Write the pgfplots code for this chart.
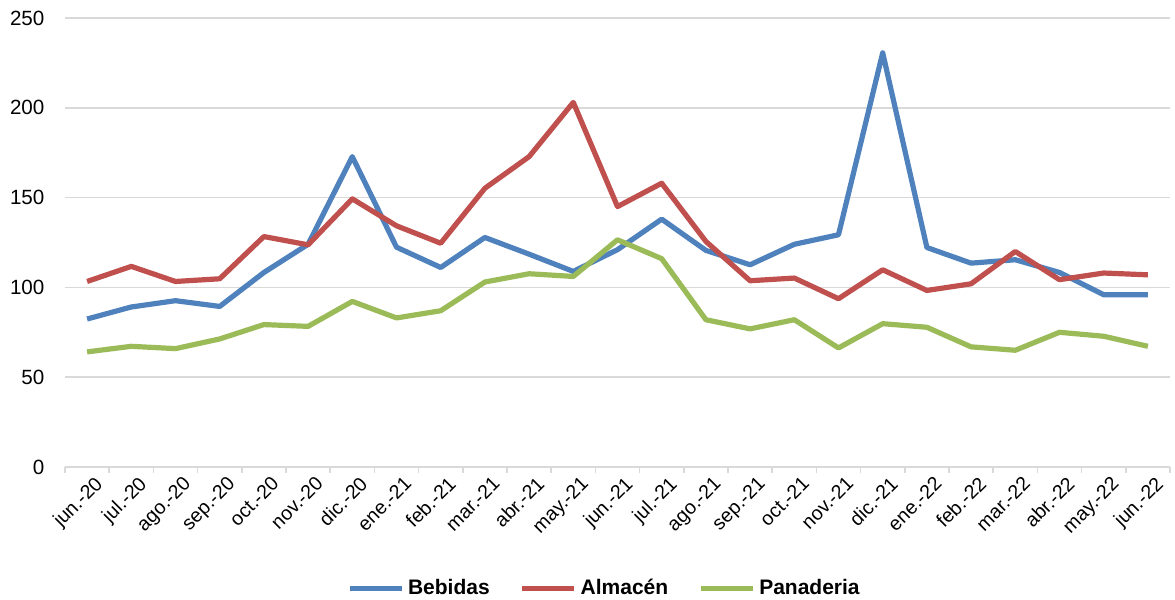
\documentclass[border=0pt]{standalone}
\usepackage{fontspec}
\setmainfont{Liberation Sans}
\usepackage{pgfplots}
\pgfplotsset{compat=1.18}
\definecolor{cBeb}{HTML}{4F81BD}
\definecolor{cAlm}{HTML}{C0504D}
\definecolor{cPan}{HTML}{9BBB59}
\definecolor{cGrid}{HTML}{D9D9D9}
\begin{document}
\begin{tikzpicture}
\useasboundingbox (0,0) rectangle (587.5pt,300pt);
\begin{axis}[
  at={(32.5pt,66.5pt)}, anchor=south west,
  scale only axis, width=552.5pt, height=224.5pt,
  xmin=-0.5, xmax=24.5, ymin=0, ymax=250,
  ytick={0,50,100,150,200,250},
  ymajorgrids, grid style={cGrid, line width=0.8pt},
  axis line style={draw=none},
  xtick pos=bottom, ytick pos=left,
  xtick={0,...,24},
  xticklabels={jun.-20,jul.-20,ago.-20,sep.-20,oct.-20,nov.-20,dic.-20,ene.-21,feb.-21,mar.-21,abr.-21,may.-21,jun.-21,jul.-21,ago.-21,sep.-21,oct.-21,nov.-21,dic.-21,ene.-22,feb.-22,mar.-22,abr.-22,may.-22,jun.-22},
  minor xtick={-0.5,0.5,...,24.5},
  major x tick style={draw=none},
  minor x tick style={cGrid, line width=0.8pt},
  minor tick length=3pt,
  tick align=outside,
  ytick style={draw=none},
  /pgf/number format/assume math mode=true,
  yticklabel style={font=\fontsize{10.3}{12}\selectfont, xshift=-2.5pt},
  xticklabel style={font=\fontsize{9.8}{12}\selectfont, rotate=45, anchor=north east, inner sep=1pt, xshift=3.5pt, yshift=-1pt},
  legend columns=3,
  legend style={draw=none, at={(0.489,-0.27)}, anchor=center, font=\fontsize{10.5}{12}\selectfont\bfseries, column sep=0pt, /tikz/every even column/.append style={column sep=13pt}, nodes={inner sep=2pt}},
  legend image code/.code={\draw[#1, line width=2.5pt] (0pt,0pt) -- (26pt,0pt);},
  every axis plot/.append style={line width=2.6pt, line join=round},
]
\addplot[cBeb] coordinates {(0,82.4)(1,89.1)(2,92.6)(3,89.4)(4,108.3)(5,124)(6,172.8)(7,122.4)(8,111.1)(9,127.8)(10,118.5)(11,108.9)(12,121)(13,138)(14,120.6)(15,112.6)(16,124)(17,129.3)(18,230.6)(19,122.2)(20,113.5)(21,115.4)(22,108.3)(23,95.9)(24,95.9)};
\addlegendentry{Bebidas}
\addplot[cAlm] coordinates {(0,103.3)(1,111.7)(2,103.3)(3,104.8)(4,128.3)(5,123.7)(6,149.3)(7,134.3)(8,124.6)(9,155.2)(10,172.8)(11,203)(12,145)(13,158)(14,125.6)(15,103.7)(16,105.2)(17,93.7)(18,109.8)(19,98.3)(20,102)(21,120)(22,104.3)(23,108)(24,107)};
\addlegendentry{Almacén}
\addplot[cPan] coordinates {(0,64.1)(1,67.2)(2,65.9)(3,71.3)(4,79.3)(5,78.3)(6,92.2)(7,83)(8,87)(9,103)(10,107.6)(11,106.1)(12,126.5)(13,116)(14,82)(15,76.9)(16,82)(17,66.3)(18,79.8)(19,77.8)(20,66.9)(21,65)(22,75)(23,72.8)(24,67.2)};
\addlegendentry{Panaderia}
\end{axis}
\end{tikzpicture}
\end{document}
